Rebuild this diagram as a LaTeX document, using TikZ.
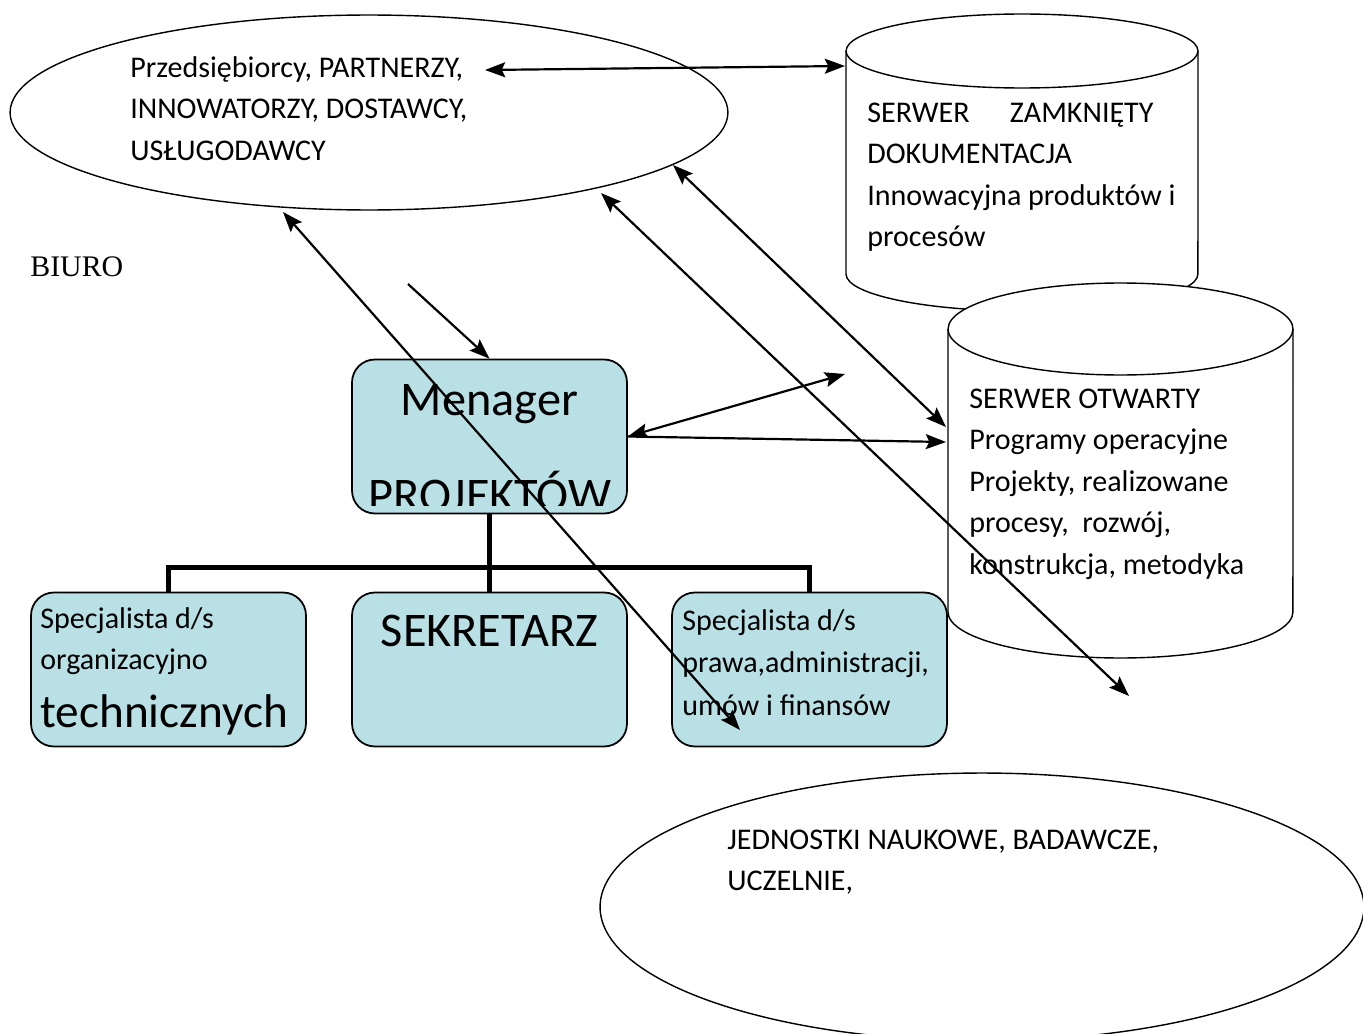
\documentclass[tikz,border=0pt]{standalone}
\usepackage{fontspec}
\setmainfont{Carlito}
\newfontfamily\timesfont{Liberation Serif}
\usepackage{xcolor}
\usepackage{tikz}
\usetikzlibrary{positioning,shapes.geometric,arrows.meta}
\definecolor{boxblue}{RGB}{185,224,228}
\tikzset{
    arrow/.style={
        -{Stealth[length=11.5pt,width=8.5pt,inset=2pt]},
        line width=1.25pt
    },
    twoway/.style={
        {Stealth[length=11.5pt,width=8.5pt,inset=2pt]}-{Stealth[length=11.5pt,width=8.5pt,inset=2pt]},
        line width=1.25pt
    }
}
\tikzstyle{oval} = [ellipse, draw=black, line width=0.8pt, fill=white, inner sep=0pt]
\tikzstyle{box} = [rectangle, rounded corners=13pt, draw=black, line width=1pt, fill=boxblue, minimum width=5.5cm, minimum height=3.08cm, inner sep=0pt]
\tikzstyle{txt} = [anchor=north west, inner sep=0pt, align=left, font=\fontsize{17.1}{23.6}\selectfont]
\tikzstyle{bigtxt} = [anchor=base, inner sep=0pt, font=\fontsize{27.5}{33}\selectfont]
\tikzstyle{treeline} = [line width=2.8pt]
\tikzstyle{cyl} = [draw=black, line width=0.8pt, fill=white]

\begin{document}
\frenchspacing
\begin{tikzpicture}[x=0.02cm, y=-0.02cm]
          \useasboundingbox (0,0) rectangle (1363,1034);
          \clip (0,0) rectangle (1363,1034);
          \node (partnerzy) [oval, minimum width=14.36cm, minimum height=3.9cm] at (369,112.5) {};
          \draw [cyl] (846,51) -- (846,274) arc[start angle=180, end angle=360, x radius=3.52cm, y radius=0.74cm] -- (1198,51) arc[start angle=0, end angle=180, x radius=3.52cm, y radius=0.74cm] -- cycle;
          \draw [cyl] (846,51) arc[start angle=180, end angle=360, x radius=3.52cm, y radius=0.74cm];
          \draw [cyl] (948,329) -- (948,612) arc[start angle=180, end angle=360, x radius=3.45cm, y radius=0.92cm] -- (1293,329) arc[start angle=0, end angle=180, x radius=3.45cm, y radius=0.92cm] -- cycle;
          \draw [cyl] (948,329) arc[start angle=180, end angle=360, x radius=3.45cm, y radius=0.92cm];
          \node (jednostki) [oval, minimum width=15.28cm, minimum height=5.36cm] at (982,907) {};
          \node (menager) [box] at (489.5,436.5) {};
          \node (organiz) [box] at (168.5,669.5) {};
          \node (sekretarz) [box] at (489.5,669.5) {};
          \node (prawo) [box] at (809.5,669.5) {};
          \draw [treeline] (menager.south) -- (sekretarz.north);
          \draw [treeline] (organiz.north) -- ++(0,-24) -| (prawo.north);
          \node (biuro) [anchor=base west, inner sep=0pt, font=\timesfont\fontsize{17}{20}\selectfont] at (30,276) {BIURO};
          \node (partnerzytxt) [txt] at (130,48) {\strut Przedsiębiorcy, PARTNERZY,\\INNOWATORZY, DOSTAWCY,\\USŁUGODAWCY};
          \node (zamknietytxt) [txt] at (867,93) {\strut SERWER\hspace{23pt}ZAMKNIĘTY\\DOKUMENTACJA\\Innowacyjna produktów i\\procesów};
          \node (otwartytxt) [txt] at (969,379) {\strut SERWER OTWARTY\\Programy operacyjne\\Projekty, realizowane\\procesy,\ \ rozwój,\\konstrukcja, metodyka};
          \node (jednostkitxt) [txt] at (727,820) {\strut JEDNOSTKI NAUKOWE, BADAWCZE,\\UCZELNIE,};
          \node (organiztxt) [txt] at (40,599) {\strut Specjalista d/s\\organizacyjno};
          \node (technicznych) [bigtxt, anchor=base west, font=\fontsize{26.9}{33}\selectfont] at (40,727) {technicznych};
          \node (prawotxt) [txt, font=\fontsize{17.1}{24.2}\selectfont] at (682,600) {\strut Specjalista d/s\\prawa,administracji,\\umów i finansów};
          \node (sekretarztxt) [bigtxt] at (489.5,646) {SEKRETARZ};
          \node (menagertxt) [bigtxt] at (489.5,415) {Menager};
          \begin{scope}
          \clip (353,361) rectangle (626,505);
          \node (projektow) [bigtxt] at (490,511) {PROJEKTÓW};
          \end{scope}
          \coordinate (p1) at (485,70);
          \coordinate (z1) at (845,66);
          \coordinate (p2) at (283,212);
          \coordinate (u2) at (740,730);
          \coordinate (p3) at (601,193);
          \coordinate (j3) at (1129,696);
          \coordinate (p4) at (673,165);
          \coordinate (o4) at (946,427);
          \coordinate (b5) at (408,284);
          \coordinate (m6) at (845,374);
          \coordinate (o7) at (946,442);
          \draw [twoway] (p1) -- (z1);
          \draw [twoway] (p2) -- (u2);
          \draw [twoway] (p3) -- (j3);
          \draw [twoway] (p4) -- (o4);
          \draw [arrow] (b5) -- (menager.north);
          \draw [twoway] (menager.east) -- (m6);
          \draw [arrow] (menager.east) -- (o7);
        \end{tikzpicture}
\end{document}
